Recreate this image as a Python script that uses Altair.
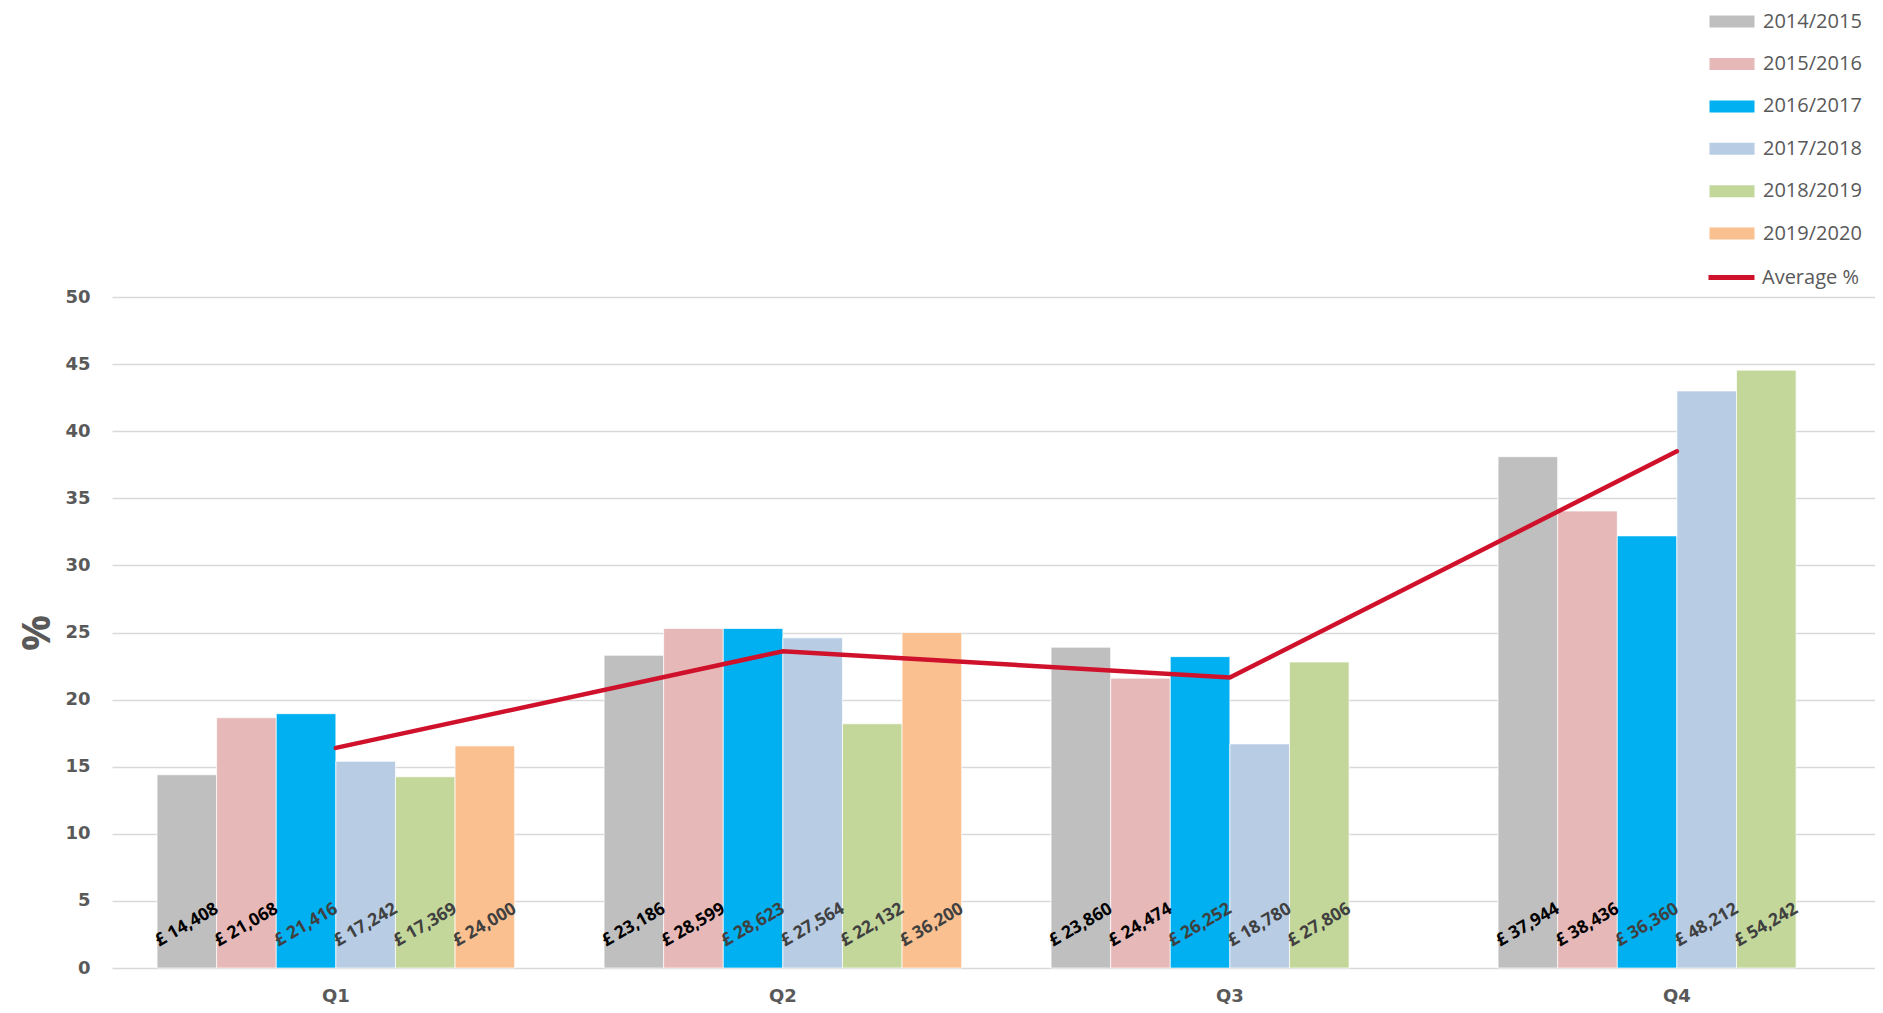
import altair as alt
import pandas as pd

quarters = ["Q1", "Q2", "Q3", "Q4"]
years = ["2014/2015", "2015/2016", "2016/2017", "2017/2018", "2018/2019", "2019/2020"]
colors = ["#BFBFBF", "#E6B8B7", "#00B0F0", "#B8CCE4", "#C4D79B", "#FAC090"]

pct_2014 = [14.4, 23.3, 23.9, 38.1]
pct_2015 = [18.65, 25.3, 21.6, 34.05]
pct_2016 = [18.95, 25.3, 23.2, 32.2]
pct_2017 = [15.4, 24.6, 16.7, 43.0]
pct_2018 = [14.25, 18.2, 22.8, 44.55]
pct_2019 = [16.55, 25.0, None, None]

pay_2014 = [14408, 23186, 23860, 37944]
pay_2015 = [21068, 28599, 24474, 38436]
pay_2016 = [21416, 28623, 26252, 36360]
pay_2017 = [17242, 27564, 18780, 48212]
pay_2018 = [17369, 22132, 27806, 54242]
pay_2019 = [24000, 36200, None, None]

average_pct = [16.4, 23.6, 21.65, 38.5]

pct_series = [pct_2014, pct_2015, pct_2016, pct_2017, pct_2018, pct_2019]
pay_series = [pay_2014, pay_2015, pay_2016, pay_2017, pay_2018, pay_2019]

rows = []
for yr, pcts, pays in zip(years, pct_series, pay_series):
    for q, p, m in zip(quarters, pcts, pays):
        if p is None:
            continue
        rows.append({"quarter": q, "year": yr, "pct": p, "pay": m})
bars_df = pd.DataFrame(rows)
avg_df = pd.DataFrame({"quarter": quarters, "pct": average_pct, "series": ["Average %"] * 4})

GRAY = "#595959"

x_enc = alt.X(
    "quarter:N",
    sort=quarters,
    scale=alt.Scale(paddingInner=0.2, paddingOuter=0.072, align=0.7),
    axis=alt.Axis(
        title=None, labelAngle=0, ticks=False, domain=False, grid=False,
        labelFont="DejaVu Sans", labelFontWeight="bold", labelFontSize=18,
        labelColor=GRAY, labelPadding=19,
    ),
)
y_axis = alt.Axis(
    values=list(range(0, 51, 5)), title="%", ticks=False, domain=False,
    labelFont="DejaVu Sans", labelFontWeight="bold", labelFontSize=18,
    labelColor=GRAY, labelPadding=22,
    titleFont="Open Sans", titleFontWeight="bold", titleFontSize=40,
    titleColor=GRAY, titlePadding=7,
    gridColor="#D9D9D9", gridWidth=1.5,
)
y_scale = alt.Scale(domain=[0, 50])
xoff = alt.XOffset("year:N", sort=years, scale=alt.Scale(domain=years, paddingInner=0, paddingOuter=0))

bars = alt.Chart(bars_df).mark_bar(stroke="white", strokeWidth=1, strokeOpacity=0.7).encode(
    x=x_enc,
    xOffset=xoff,
    y=alt.Y("pct:Q", scale=y_scale, axis=y_axis),
    color=alt.Color(
        "year:N",
        scale=alt.Scale(domain=years, range=colors),
        legend=alt.Legend(
            orient="none", legendX=1610, legendY=-285.4, title=None,
            symbolType="M-4.5,-1.2H4.5V1.2H-4.5Z", symbolSize=100,
            symbolStrokeWidth=0, symbolOpacity=1,
            labelFont="Open Sans", labelFontSize=20, labelColor=GRAY,
            labelOffset=21, rowPadding=22.4,
        ),
    ),
)

labels = alt.Chart(bars_df).transform_calculate(
    lbl="'£ ' + format(datum.pay, ',')"
).mark_text(
    angle=330, dx=21.5, dy=-37.2, align="center", baseline="middle",
    font="Open Sans", fontWeight="bold", fontSize=17.5,
).encode(
    x=x_enc,
    xOffset=xoff,
    y=alt.Y(datum=0, scale=y_scale, axis=y_axis),
    text="lbl:N",
    color=alt.condition(
        alt.FieldOneOfPredicate(field="year", oneOf=years[:2]),
        alt.value("#000000"), alt.value("#404040"),
    ),
)

line = alt.Chart(avg_df).mark_line(strokeWidth=4.5, strokeCap="round").encode(
    x=x_enc,
    y=alt.Y("pct:Q", scale=y_scale, axis=y_axis),
    stroke=alt.Stroke(
        "series:N",
        scale=alt.Scale(domain=["Average %"], range=["#D0112B"]),
        legend=alt.Legend(
            orient="none", legendX=1594, legendY=-45, title=None,
            symbolType="stroke", symbolSize=2116, symbolStrokeWidth=5,
            labelFont="Open Sans", labelFontSize=20, labelColor=GRAY,
            labelOffset=5,
        ),
    ),
)

chart = alt.layer(bars, line, labels).properties(
    width=1763, height=671,
    padding={"left": 104, "top": 289, "right": 0, "bottom": 36},
    autosize=alt.AutoSizeParams(type="none"),
    background="white",
).configure_view(stroke="transparent", strokeWidth=0).configure_axis(
    domain=False, ticks=False
)

chart.save("out.html", embed_options={"renderer": "svg", "actions": False})
